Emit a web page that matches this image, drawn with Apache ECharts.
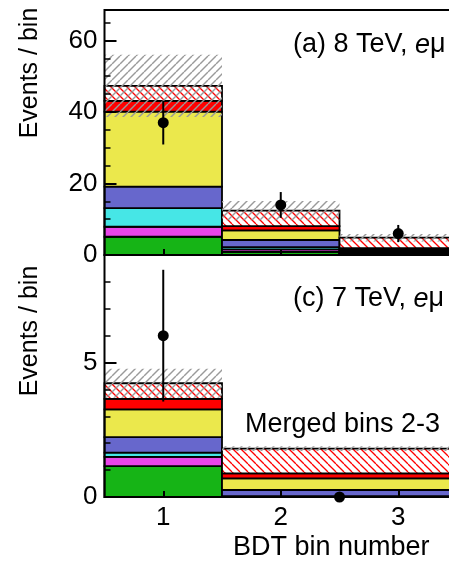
<!DOCTYPE html>
<html><head><meta charset="utf-8">
<script src="https://cdn.jsdelivr.net/npm/echarts@6/dist/echarts.min.js"></script>
<style>html,body{margin:0;padding:0;background:#fff}#c{width:449px;height:562px}</style>
</head><body><div id="c"></div>
<script>
// ---------------- data ----------------
const binEdges8 = [0.5, 1.5, 2.5, 3.5];
const binEdges7 = [0.5, 1.5, 3.5];
// 8 TeV stacked contributions (bottom to top)
const dy8    = [5.1, 0.9, 0.3];
const vv8    = [2.8, 0.7, 0.2];
const misid8 = [5.2, 0.6, 0.2];
const ww8    = [6.0, 2.0, 0.5];
const top8   = [21.0, 2.7, 0.4];
const ggf8   = [3.0, 1.2, 0.3];
const vbf8   = [4.2, 4.3, 2.95];
const unc8   = [8.7, 2.7, 1.05];
const obsX8  = [1, 2, 3];
const obs8   = [37, 14, 6];
const obsErr8 = [6.1, 3.6, 2.4];
// 7 TeV stacked contributions (bin 1, merged bins 2-3)
const dy7    = [1.15, 0.01];
const vv7    = [0.34, 0.01];
const misid7 = [0.16, 0.01];
const ww7    = [0.58, 0.23];
const top7   = [1.03, 0.43];
const ggf7   = [0.39, 0.19];
const vbf7   = [0.58, 0.92];
const unc7   = [0.54, 0.09];
const obsX7  = [1, 2.5];
const obs7   = [6, 0];
const obsErr7 = [2.45, 0];
const xTicks = [1, 2, 3];

// ---------------- styles ----------------
const FONT = '"Liberation Sans", Arial, Helvetica, sans-serif';
function hatch(color, dir, bg, lw, s) {
  const c = document.createElement('canvas');
  c.width = s; c.height = s;
  const ctx = c.getContext('2d');
  if (bg) { ctx.fillStyle = bg; ctx.fillRect(0, 0, s, s); }
  ctx.strokeStyle = color; ctx.lineWidth = lw;
  for (let k = -1; k <= 1; k++) {
    ctx.beginPath();
    if (dir === '\\') { ctx.moveTo(k * s, 0); ctx.lineTo(k * s + s, s); }
    else { ctx.moveTo(k * s, s); ctx.lineTo(k * s + s, 0); }
    ctx.stroke();
  }
  return { image: c, repeat: 'repeat' };
}
const redHatch = hatch('#ff0000', '\\', '#ffffff', 1.3, 8);
const grayHatch = hatch('#9a9a9a', '/', null, 1.4, 8);
const fills = ['#16b416', '#ea44ea', '#46e6e6', '#6767cc', '#ebe84c', '#ff0000', redHatch];

function buildStack(edges, comps) {
  const items = [];
  for (let b = 0; b < edges.length - 1; b++) {
    let base = 0;
    comps.forEach((arr, ci) => {
      items.push([edges[b], edges[b + 1], base, base + arr[b], ci]);
      base += arr[b];
    });
  }
  return items;
}
function buildBand(edges, comps, unc) {
  const items = [];
  for (let b = 0; b < edges.length - 1; b++) {
    let tot = 0; comps.forEach(a => tot += a[b]);
    items.push([edges[b], edges[b + 1], tot - unc[b], tot + unc[b]]);
  }
  return items;
}
const comps8 = [dy8, vv8, misid8, ww8, top8, ggf8, vbf8];
const comps7 = [dy7, vv7, misid7, ww7, top7, ggf7, vbf7];

function rectItem(params, api) {
  const p0 = api.coord([api.value(0), api.value(3)]);
  const p1 = api.coord([api.value(1), api.value(2)]);
  return { type: 'rect', shape: { x: p0[0], y: p0[1], width: p1[0] - p0[0], height: p1[1] - p0[1] },
    style: { fill: fills[api.value(4)], stroke: '#000', lineWidth: 1.8 } };
}
function bandItem(params, api) {
  const p0 = api.coord([api.value(0), api.value(3)]);
  const p1 = api.coord([api.value(1), api.value(2)]);
  return { type: 'rect', shape: { x: p0[0], y: p0[1], width: p1[0] - p0[0], height: p1[1] - p0[1] },
    style: { fill: grayHatch, stroke: null } };
}
function pointItem(params, api) {
  const x = api.value(0), y = api.value(1), e = api.value(2);
  const c = api.coord([x, y]);
  const lo = api.coord([x, y - e]), hi = api.coord([x, y + e]);
  return { type: 'group', children: [
    { type: 'line', shape: { x1: c[0], y1: hi[1], x2: c[0], y2: lo[1] }, style: { stroke: '#000', lineWidth: 2 } },
    { type: 'circle', shape: { cx: c[0], cy: c[1], r: 5.5 }, style: { fill: '#000' } }
  ] };
}
const pts8 = obsX8.map((x, i) => [x, obs8[i], obsErr8[i]]);
const pts7 = obsX7.map((x, i) => [x, obs7[i], obsErr7[i]]);

const G0 = { left: 104.5, top: 10, width: 352.5, height: 245, outerBoundsMode: 'none', containLabel: false };
const G1 = { left: 104.5, top: 255, width: 352.5, height: 242, outerBoundsMode: 'none', containLabel: false };
const gridBase = { show: true, borderColor: '#000', borderWidth: 2, backgroundColor: 'transparent', z: 10 };

function minorY(gi, max, interval) {
  return { gridIndex: gi, type: 'value', min: 0, max: max, interval: interval, z: 10,
    axisLine: { show: false }, splitLine: { show: false }, axisLabel: { show: false },
    axisTick: { show: true, inside: true, length: 6, lineStyle: { color: '#000', width: 1.5 } } };
}
function majorY(gi, max, interval) {
  return { gridIndex: gi, type: 'value', min: 0, max: max, interval: interval, z: 11,
    axisLine: { show: false }, splitLine: { show: false },
    axisLabel: { show: true, showMaxLabel: false, color: '#000', fontSize: 26, fontFamily: FONT, margin: 7 },
    axisTick: { show: true, inside: true, length: 12, lineStyle: { color: '#000', width: 2 } } };
}

const chart = echarts.init(document.getElementById('c'), null, { renderer: 'canvas' });
chart.setOption({
  animation: false,
  backgroundColor: '#fff',
  grid: [
    Object.assign({}, gridBase, G0),
    Object.assign({}, gridBase, G1),
    Object.assign({ show: false }, G0),
    Object.assign({ show: false }, G1)
  ],
  xAxis: [
    { gridIndex: 0, type: 'value', min: 0.5, max: 3.5, z: 10, axisLine: { show: false }, splitLine: { show: false },
      axisLabel: { show: false }, axisTick: { show: true, inside: true, length: 6, customValues: xTicks, lineStyle: { color: '#000', width: 2 } } },
    { gridIndex: 1, type: 'value', min: 0.5, max: 3.5, z: 10, axisLine: { show: false }, splitLine: { show: false },
      axisLabel: { show: true, customValues: xTicks, color: '#000', fontSize: 26, fontFamily: FONT, margin: 8 },
      axisTick: { show: true, inside: true, length: 6, customValues: xTicks, lineStyle: { color: '#000', width: 2 } } },
    { gridIndex: 2, type: 'value', min: 0.5, max: 3.5, show: false },
    { gridIndex: 3, type: 'value', min: 0.5, max: 3.5, show: false }
  ],
  yAxis: [
    minorY(0, 68.5, 5),
    minorY(1, 9, 1),
    majorY(2, 68.5, 20),
    majorY(3, 9, 5)
  ],
  series: [
    { type: 'custom', xAxisIndex: 0, yAxisIndex: 0, renderItem: rectItem, data: buildStack(binEdges8, comps8), encode: { x: [0, 1], y: [2, 3] }, z: 2 },
    { type: 'custom', xAxisIndex: 0, yAxisIndex: 0, renderItem: bandItem, data: buildBand(binEdges8, comps8, unc8), encode: { x: [0, 1], y: [2, 3] }, z: 3 },
    { type: 'custom', xAxisIndex: 0, yAxisIndex: 0, renderItem: pointItem, data: pts8, encode: { x: 0, y: 1 }, z: 12 },
    { type: 'custom', xAxisIndex: 1, yAxisIndex: 1, renderItem: rectItem, data: buildStack(binEdges7, comps7), encode: { x: [0, 1], y: [2, 3] }, z: 2 },
    { type: 'custom', xAxisIndex: 1, yAxisIndex: 1, renderItem: bandItem, data: buildBand(binEdges7, comps7, unc7), encode: { x: [0, 1], y: [2, 3] }, z: 3 },
    { type: 'custom', xAxisIndex: 1, yAxisIndex: 1, renderItem: pointItem, data: pts7, encode: { x: 0, y: 1 }, z: 12 }
  ],
  graphic: [
    { type: 'text', x: 293, y: 45, z: 20, style: { text: '(a) 8 TeV, {i|e}μ', fill: '#000', fontSize: 27, fontFamily: FONT, align: 'left', verticalAlign: 'middle',
      rich: { i: { fontStyle: 'italic', fontSize: 27, fontFamily: FONT, fill: '#000' } } } },
    { type: 'text', x: 293, y: 299, z: 20, style: { text: '(c) 7 TeV, {i|e}μ', fill: '#000', fontSize: 27, fontFamily: FONT, align: 'left', verticalAlign: 'middle',
      rich: { i: { fontStyle: 'italic', fontSize: 27, fontFamily: FONT, fill: '#000' } } } },
    { type: 'text', x: 245, y: 425, z: 20, style: { text: 'Merged bins 2-3', fill: '#000', fontSize: 27, fontFamily: FONT, align: 'left', verticalAlign: 'middle' } },
    { type: 'text', x: 233, y: 548, z: 20, style: { text: 'BDT bin number', fill: '#000', fontSize: 27, fontFamily: FONT, align: 'left', verticalAlign: 'middle' } },
    { type: 'text', x: 30, y: 73, rotation: Math.PI / 2, z: 20, style: { text: 'Events / bin', fill: '#000', fontSize: 25, fontFamily: FONT, align: 'center', verticalAlign: 'middle' } },
    { type: 'text', x: 30, y: 331, rotation: Math.PI / 2, z: 20, style: { text: 'Events / bin', fill: '#000', fontSize: 25, fontFamily: FONT, align: 'center', verticalAlign: 'middle' } }
  ]
});
</script></body></html>
